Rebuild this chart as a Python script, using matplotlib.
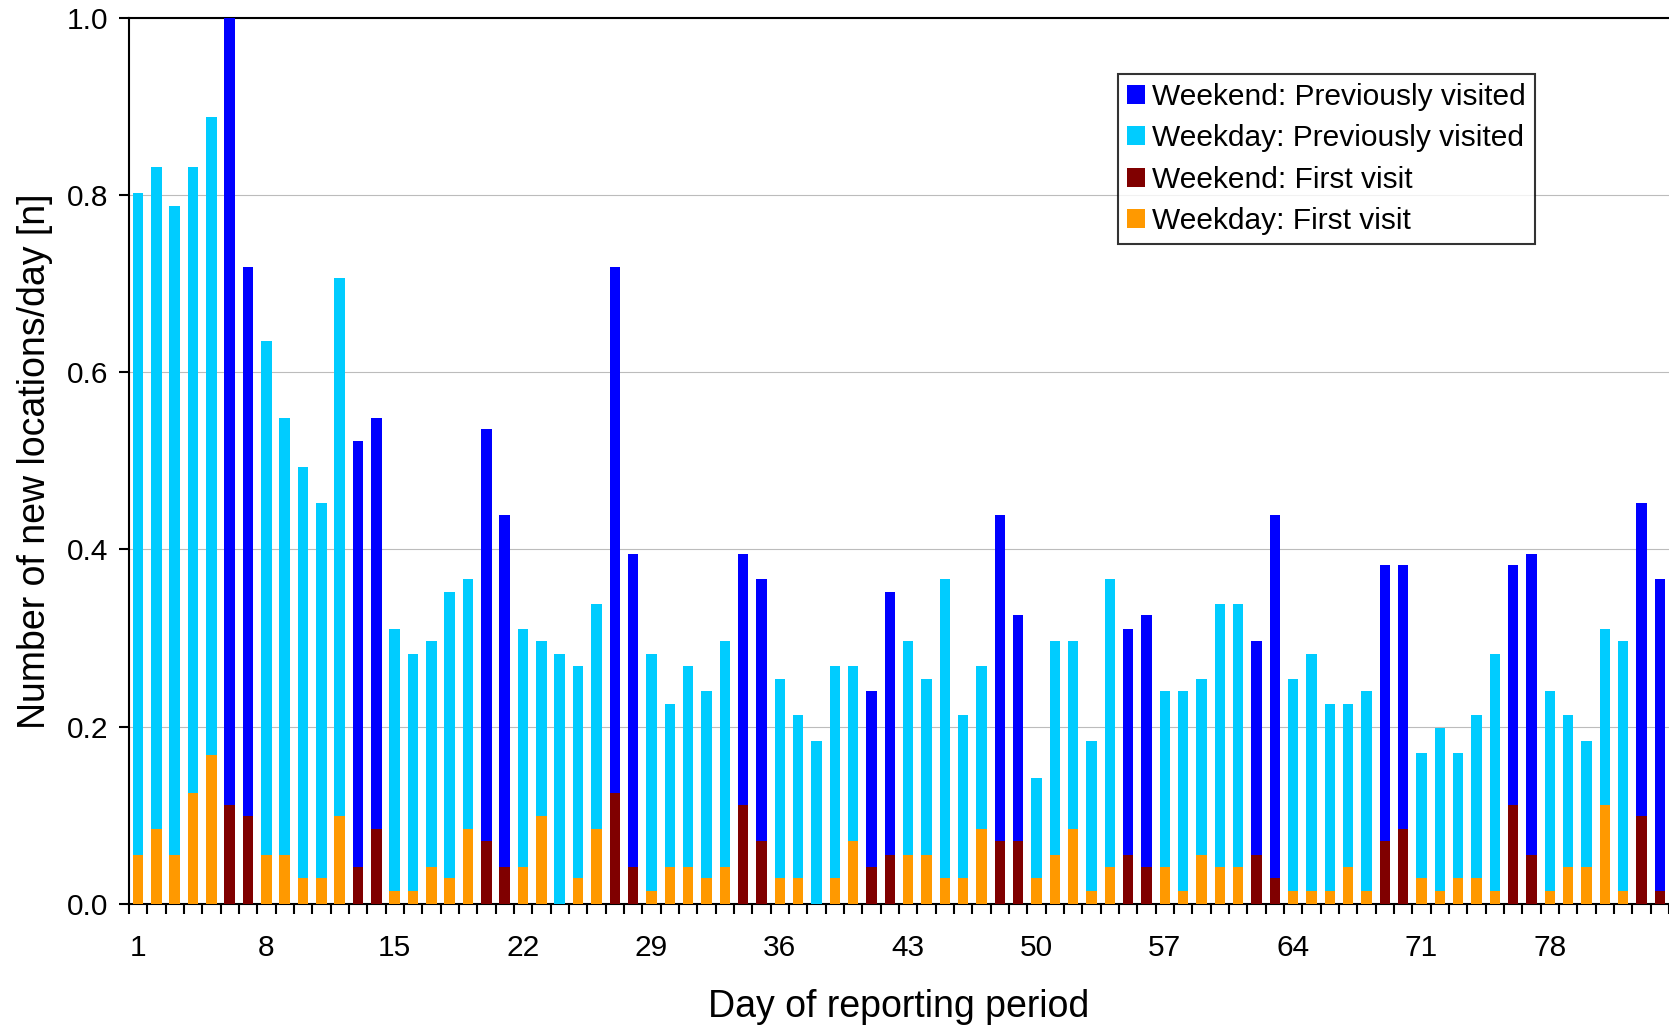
import matplotlib.pyplot as plt
import numpy as np

plt.rcParams['font.family'] = ['Liberation Sans', 'DejaVu Sans']

days = list(range(1, 85))
weekend_days = [6, 7, 13, 14, 20, 21, 27, 28, 34, 35, 41, 42, 48, 49,
                55, 56, 62, 63, 69, 70, 76, 77, 83, 84]

# total height of each bar (first visit + previously visited)
total = [0.802, 0.832, 0.788, 0.832, 0.888, 1.000, 0.719, 0.635, 0.549, 0.493,
         0.452, 0.706, 0.523, 0.549, 0.310, 0.282, 0.297, 0.352, 0.367, 0.536,
         0.439, 0.310, 0.297, 0.282, 0.269, 0.339, 0.719, 0.395, 0.282, 0.226,
         0.269, 0.240, 0.297, 0.395, 0.367, 0.254, 0.213, 0.184, 0.269, 0.269,
         0.240, 0.352, 0.297, 0.254, 0.367, 0.213, 0.269, 0.439, 0.326, 0.142,
         0.297, 0.297, 0.184, 0.367, 0.310, 0.326, 0.240, 0.240, 0.254, 0.339,
         0.339, 0.297, 0.439, 0.254, 0.282, 0.226, 0.226, 0.240, 0.382, 0.382,
         0.170, 0.198, 0.170, 0.213, 0.282, 0.382, 0.395, 0.240, 0.213, 0.184,
         0.310, 0.297, 0.452, 0.367]

first_visit = [0.055, 0.084, 0.055, 0.125, 0.168, 0.112, 0.099, 0.055, 0.055, 0.029,
               0.029, 0.099, 0.041, 0.084, 0.014, 0.014, 0.041, 0.029, 0.084, 0.071,
               0.041, 0.041, 0.099, 0.000, 0.029, 0.084, 0.125, 0.041, 0.014, 0.041,
               0.041, 0.029, 0.041, 0.112, 0.071, 0.029, 0.029, 0.000, 0.029, 0.071,
               0.041, 0.055, 0.055, 0.055, 0.029, 0.029, 0.084, 0.071, 0.071, 0.029,
               0.055, 0.084, 0.014, 0.041, 0.055, 0.041, 0.041, 0.014, 0.055, 0.041,
               0.041, 0.055, 0.029, 0.014, 0.014, 0.014, 0.041, 0.014, 0.071, 0.084,
               0.029, 0.014, 0.029, 0.029, 0.014, 0.112, 0.055, 0.014, 0.041, 0.041,
               0.112, 0.014, 0.099, 0.014]

x_labels = [1, 8, 15, 22, 29, 36, 43, 50, 57, 64, 71, 78]

days = np.array(days)
total = np.array(total)
first_visit = np.array(first_visit)
prev = total - first_visit
we = np.isin(days, weekend_days)
wd = ~we

fig = plt.figure(figsize=(16.69, 10.27), dpi=100)
ax = fig.add_axes([0.0772, 0.12, 0.9228, 0.8624])

w = 0.57
ax.bar(days[we], prev[we], w, bottom=first_visit[we], color='#0000FF',
       label='Weekend: Previously visited', zorder=3)
ax.bar(days[wd], prev[wd], w, bottom=first_visit[wd], color='#00CCFF',
       label='Weekday: Previously visited', zorder=3)
ax.bar(days[we], first_visit[we], w, color='#800000',
       label='Weekend: First visit', zorder=3)
ax.bar(days[wd], first_visit[wd], w, color='#FF9900',
       label='Weekday: First visit', zorder=3)

ax.set_xlim(0.5, 84.5)
ax.set_ylim(0, 1.0)
ax.set_yticks(np.arange(0, 1.01, 0.2))
ax.set_yticklabels(['%.1f' % v for v in np.arange(0, 1.01, 0.2)])
ax.yaxis.grid(True, color='#bcbcbc', lw=0.8, zorder=0)

ax.set_xticks(x_labels)
ax.set_xticklabels([str(v) for v in x_labels])
ax.set_xticks(np.arange(0.5, 85, 1), minor=True)
ax.tick_params(axis='x', which='major', length=0, pad=22, labelsize=21.5)
ax.tick_params(axis='x', which='minor', length=7, width=1.5, direction='out')
ax.tick_params(axis='y', length=7, width=1.5, pad=8, labelsize=21.5)

for s in ['left', 'bottom', 'top']:
    ax.spines[s].set_linewidth(1.5)
ax.spines['right'].set_visible(False)

ax.set_xlabel('Day of reporting period', fontsize=27, labelpad=19)
ax.set_ylabel('Number of new locations/day [n]', fontsize=27, labelpad=10)

leg = ax.legend(loc='upper left', bbox_to_anchor=(0.642, 0.937), fontsize=21.5,
                frameon=True, fancybox=False, edgecolor='black',
                handlelength=0.6, handleheight=0.6, handletextpad=0.25,
                borderpad=0.3, labelspacing=0.45, borderaxespad=0)
leg.get_frame().set_linewidth(1.5)

fig.savefig('out.png', dpi=100)
